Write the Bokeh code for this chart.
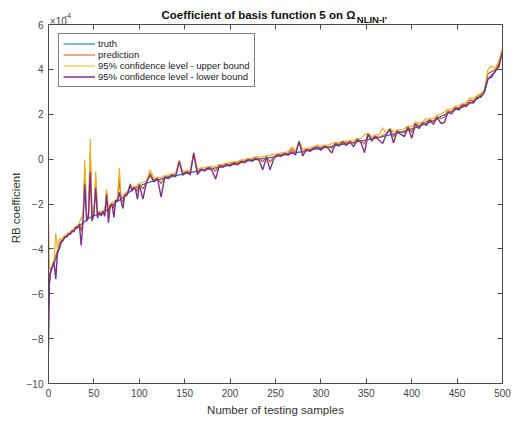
from bokeh.plotting import figure
from bokeh.models import Range1d, LinearAxis, Label, FixedTicker, CustomJSTickFormatter
from bokeh.embed import file_html
from bokeh.resources import INLINE

# ---------------- data (values in units of 1e-4) ----------------
sample_index = [0, 1, 2, 3] + list(range(4, 101, 2)) + list(range(104, 501, 4))

truth = [
    -6.7, -5.6, -5.1, -4.95, -4.85, -4.65, -4.45, -4.2, -3.95, -3.72,
    -3.58, -3.5, -3.44, -3.38, -3.32, -3.25, -3.18, -3.1, -3.03, -2.96,
    -2.9, -2.84, -2.78, -2.72, -2.65, -2.6, -2.56, -2.52, -2.5, -2.48,
    -2.46, -2.43, -2.4, -2.34, -2.28, -2.21, -2.14, -2.07, -2.0, -1.94,
    -1.88, -1.83, -1.78, -1.72, -1.66, -1.58, -1.5, -1.44, -1.38, -1.33,
    -1.28, -1.24, -1.2,
    -1.13, -1.07, -1.02, -0.97, -0.93, -0.89, -0.85, -0.81, -0.78, -0.74,
    -0.7, -0.67, -0.63, -0.6, -0.57, -0.54, -0.51, -0.48, -0.45, -0.42,
    -0.39, -0.36, -0.33, -0.3, -0.26, -0.23, -0.2, -0.16, -0.12, -0.08,
    -0.05, -0.02, 0.0, 0.02, 0.04, 0.07, 0.1, 0.13, 0.16, 0.19,
    0.22, 0.25, 0.28, 0.31, 0.34, 0.37, 0.4, 0.43, 0.46, 0.48,
    0.51, 0.54, 0.57, 0.6, 0.63, 0.66, 0.69, 0.72, 0.75, 0.78,
    0.81, 0.84, 0.87, 0.9, 0.93, 0.96, 1.0, 1.04, 1.08, 1.12,
    1.16, 1.2, 1.25, 1.3, 1.35, 1.4, 1.46, 1.52, 1.58, 1.64,
    1.7, 1.8, 1.9, 1.98, 2.05, 2.12, 2.2, 2.27, 2.33, 2.4,
    2.48, 2.58, 2.68, 2.8, 2.95, 3.55, 3.75, 3.88, 4.2, 4.8,
]

prediction_offset = [
    1.2, 0.4, 0.1, 0.05, 0.06, 0.1, 0.15, 0.12, 0.18, 0.08,
    0.03, 0.06, 0.02, 0.05, 0.03, 0.06, 0.01, 0.05, 0.03, 0.06,
    -0.3, 0.08, 2.2, 0.05, 0.15, 2.8, -0.05, 0.08, 1.6, -0.02,
    0.1, -0.02, 0.08, -0.05, 0.8, -0.2, 0.1, 0.1, -0.2, 0.1,
    0.05, 0.9, 0.0, -0.2, 0.1, 0.02, 0.1, 0.32, 0.03, 0.08,
    -0.02, -0.2, 0.08,
    -0.2, 0.06, 0.4, 0.03, 0.08, -0.2, 0.06, 0.02, 0.08, 0.03,
    0.62, 0.03, 0.08, 0.0, 0.85, -0.03, 0.08, 0.03, 0.08, 0.02,
    -0.15, 0.08, 0.03, 0.08, 0.03, 0.08, 0.02, 0.08, 0.03, 0.08,
    0.03, 0.08, 0.02, -0.15, 0.08, -0.2, 0.0, 0.08, 0.03, 0.08,
    0.03, 0.2, 0.0, 0.48, -0.05, 0.08, 0.02, 0.08, 0.1, 0.02,
    0.08, 0.02, -0.08, 0.1, 0.03, 0.12, 0.02, 0.08, -0.05, 0.1,
    0.02, -0.15, 0.26, 0.0, 0.1, 0.0, 0.05, 0.08, 0.27, -0.12,
    0.1, 0.02, -0.08, 0.14, -0.15, 0.2, 0.0, 0.1, 0.08, 0.12,
    -0.02, 0.1, -0.1, -0.1, 0.1, 0.0, 0.1, 0.02, 0.1, 0.03,
    0.15, 0.02, 0.1, 0.04, 0.1, 0.25, 0.15, 0.1, 0.05, 0.05,
]

upper_offset = [
    4.0, 0.7, 0.25, 0.1, 0.12, 0.15, 1.15, 0.15, 0.4, 0.12,
    0.1, 0.1, 0.08, 0.1, 0.08, 0.1, 0.07, 0.1, 0.08, 0.1,
    0.3, 0.12, 2.75, 0.15, 0.2, 3.5, 0.1, 0.12, 1.95, 0.1,
    0.12, 0.08, 0.12, 0.08, 0.92, 0.1, 0.12, 0.15, 0.1, 0.12,
    0.1, 1.43, 0.1, 0.08, 0.12, 0.1, 0.12, 0.35, 0.1, 0.12,
    0.08, 0.1, 0.12,
    0.1, 0.12, 0.54, 0.1, 0.12, 0.08, 0.12, 0.1, 0.12, 0.1,
    0.65, 0.1, 0.12, 0.08, 0.85, 0.1, 0.12, 0.1, 0.12, 0.1,
    0.08, 0.12, 0.1, 0.12, 0.1, 0.12, 0.1, 0.12, 0.1, 0.12,
    0.1, 0.12, 0.1, 0.08, 0.12, 0.1, 0.12, 0.1, 0.12, 0.1,
    0.12, 0.3, 0.1, 0.5, 0.1, 0.12, 0.1, 0.12, 0.18, 0.1,
    0.12, 0.1, 0.12, 0.15, 0.1, 0.15, 0.1, 0.12, 0.1, 0.15,
    0.1, 0.25, 0.28, 0.1, 0.15, 0.12, 0.4, 0.12, 0.3, 0.1,
    0.15, 0.12, 0.1, 0.18, 0.1, 0.25, 0.12, 0.15, 0.22, 0.15,
    0.12, 0.15, 0.1, 0.12, 0.18, 0.12, 0.15, 0.12, 0.15, 0.12,
    0.25, 0.12, 0.15, 0.12, 0.15, 0.45, 0.4, 0.15, 0.2, 0.1,
]

lower_offset = [
    -1.7, 0.1, -0.05, 0.05, 0.0, 0.08, -0.9, 0.1, -0.05, 0.04,
    -0.05, 0.03, -0.04, 0.05, -0.03, 0.04, -0.06, 0.05, -0.03, 0.04,
    -0.95, 0.05, 1.65, -0.05, 0.1, 2.0, -0.2, 0.05, 1.2, -0.15,
    0.08, -0.1, 0.05, -0.2, 0.7, -0.62, 0.08, 0.05, -0.6, 0.1,
    0.0, 0.35, -0.1, -0.48, 0.06, -0.05, 0.08, 0.3, -0.05, 0.05,
    -0.1, -0.55, 0.05,
    -0.65, 0.05, 0.3, -0.05, 0.08, -0.8, 0.05, -0.06, 0.08, -0.05,
    0.6, -0.05, 0.06, -0.1, 0.84, -0.15, 0.05, -0.05, 0.06, -0.08,
    -0.5, 0.05, -0.04, 0.06, -0.05, 0.05, -0.06, 0.05, -0.04, 0.06,
    -0.05, 0.04, -0.06, -0.5, 0.04, -0.55, -0.1, 0.05, -0.04, 0.06,
    -0.05, 0.08, -0.1, 0.47, -0.2, 0.05, -0.06, 0.06, 0.05, -0.08,
    0.06, -0.06, -0.3, 0.08, -0.05, 0.1, -0.08, 0.05, -0.2, 0.08,
    -0.06, -0.55, 0.25, -0.1, 0.08, -0.12, -0.3, 0.06, 0.24, -0.4,
    0.08, -0.1, -0.25, 0.1, -0.42, 0.15, -0.1, 0.08, -0.08, 0.1,
    -0.15, 0.06, -0.3, -0.35, 0.05, -0.1, 0.06, -0.08, 0.05, -0.06,
    0.05, -0.08, 0.06, -0.05, 0.04, 0.05, -0.1, 0.05, -0.1, 0.0,
]

prediction = [t + d for t, d in zip(truth, prediction_offset)]
upper_bound = [t + d for t, d in zip(truth, upper_offset)]
lower_bound = [t + d for t, d in zip(truth, lower_offset)]

x_ticks = [0, 50, 100, 150, 200, 250, 300, 350, 400, 450, 500]
y_ticks = [-10, -8, -6, -4, -2, 0, 2, 4, 6]
Y_MIN, Y_MAX = -10, 6

# ---------------- figure ----------------
FONT = "Liberation Sans"
AX = "#4a4a4a"
TXT = "#444444"

# frame reaches to the top of the canvas so that the title can sit inside it;
# the visible box (axes with bounds) spans -10..6, with 6 placed 24 px below the top
FRAME_H = 383
y_top = Y_MAX + 24 * (Y_MAX - Y_MIN) / (FRAME_H - 24)

p = figure(width=522, height=421, output_backend="svg", toolbar_location=None,
           x_range=Range1d(0, 500), y_range=Range1d(Y_MIN, y_top),
           min_border_left=48, min_border_right=20, min_border_top=0, min_border_bottom=38)
p.xgrid.visible = False
p.ygrid.visible = False
p.outline_line_color = None
p.background_fill_color = "white"
p.border_fill_color = "white"

def style_axis(ax, ticks, show_labels):
    ax.ticker = FixedTicker(ticks=ticks)
    ax.axis_line_color = AX
    ax.major_tick_line_color = AX
    ax.major_tick_in = 5
    ax.major_tick_out = 0
    ax.minor_tick_in = 0
    ax.minor_tick_out = 0
    ax.major_label_text_font = FONT
    ax.major_label_text_font_size = "10px"
    ax.major_label_text_color = TXT
    ax.axis_label_text_font = FONT
    ax.axis_label_text_font_size = "11.5px"
    ax.axis_label_text_font_style = "normal"
    ax.axis_label_text_color = "#333333"
    if not show_labels:
        ax.formatter = CustomJSTickFormatter(code="return ''")
        ax.major_label_standoff = 0
        ax.major_label_text_font_size = "0px"

style_axis(p.xaxis[0], x_ticks, True)
style_axis(p.yaxis[0], y_ticks, True)
p.yaxis[0].bounds = (Y_MIN, Y_MAX)
p.xaxis.axis_label = "Number of testing samples"
# trailing no-break spaces centre the visible text on the -10..6 box rather than the taller frame
p.yaxis.axis_label = "RB coefficient" + "\u00a0" * 10
p.xaxis.major_label_standoff = 5
p.yaxis.major_label_standoff = 5
p.xaxis.axis_label_standoff = 4
p.yaxis.axis_label_standoff = 2

top_ax = LinearAxis(fixed_location=Y_MAX)
right_ax = LinearAxis(bounds=(Y_MIN, Y_MAX))
style_axis(top_ax, x_ticks, False)
style_axis(right_ax, y_ticks, False)
p.add_layout(top_ax, "above")
p.add_layout(right_ax, "right")

# ---------------- lines ----------------
p.line(sample_index, truth, line_color="#0072BD", line_width=1.2, legend_label="truth")
p.line(sample_index, prediction, line_color="#D95319", line_width=1.2, legend_label="prediction")
p.line(sample_index, upper_bound, line_color="#EDB120", line_width=1.2,
       legend_label="95% confidence level - upper bound")
p.line(sample_index, lower_bound, line_color="#7E2F8E", line_width=1.4,
       legend_label="95% confidence level - lower bound")

lg = p.legend[0]
lg.location = (10, 296)
lg.margin = 0
lg.padding = 4
lg.spacing = 0
lg.label_height = 11
lg.glyph_height = 11
lg.glyph_width = 32
lg.label_standoff = 3
lg.label_text_font = FONT
lg.label_text_font_size = "9.5px"
lg.label_text_color = "#222222"
lg.border_line_color = "black"
lg.border_line_width = 1
lg.background_fill_alpha = 1.0

# ---------------- title and exponent ----------------
p.add_layout(Label(x=338, y=6.43, text="Coefficient of basis function 5 on \u03a9",
                   text_align="right", text_baseline="alphabetic", text_font=FONT,
                   text_font_size="11.5px", text_font_style="bold", text_color="#111111"))
p.add_layout(Label(x=339.5, y=6.24, text="NLIN-I'", text_align="left",
                   text_baseline="alphabetic", text_font=FONT,
                   text_font_size="9.5px", text_font_style="bold", text_color="#111111"))
p.add_layout(Label(x=1.5, y=6.12, text="\u00d710", text_align="left",
                   text_baseline="alphabetic", text_font=FONT,
                   text_font_size="10px", text_color=TXT))
p.add_layout(Label(x=17.5, y=6.38, text="-4", text_align="left",
                   text_baseline="alphabetic", text_font=FONT,
                   text_font_size="7.5px", text_color=TXT))

open("out.html", "w").write(file_html(p, INLINE))
